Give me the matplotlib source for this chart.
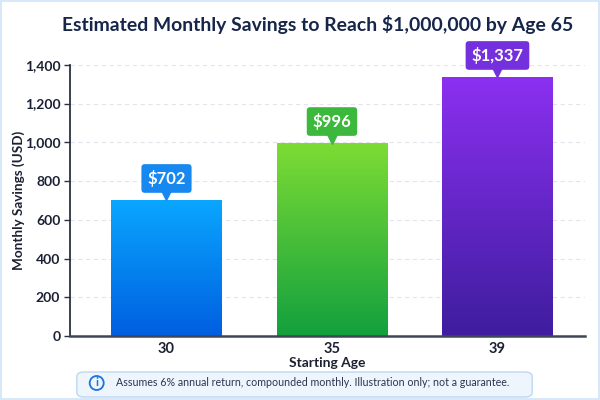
import numpy as np
import matplotlib
matplotlib.use("Agg")
import matplotlib.pyplot as plt
from matplotlib.patches import FancyBboxPatch, Rectangle, Circle
from matplotlib.colors import LinearSegmentedColormap
import matplotlib.transforms as mtrans
from matplotlib.ticker import FuncFormatter

ages = ["30", "35", "39"]
savings = [702, 996, 1337]
top_colors = ["#0aa6ff", "#7ddc34", "#8b30f0"]
bottom_colors = ["#005fe0", "#12a03e", "#3e1d9e"]
badge_colors = ["#1688f0", "#3cb83c", "#7430dc"]

plt.rcParams["font.family"] = ["Lato", "DejaVu Sans"]


def fit_length(txt, target_px, vertical=False):
    # shrink/grow a text so it spans about target_px pixels
    r = fig.canvas.get_renderer()
    bb = txt.get_window_extent(r)
    w = bb.height if vertical else bb.width
    txt.set_fontsize(txt.get_fontsize() * target_px / w)


fig = plt.figure(figsize=(6, 4), dpi=100)
fig.patch.set_facecolor("white")
fig.add_artist(Rectangle((0.002, 0.002), 0.996, 0.996, transform=fig.transFigure,
                         fill=False, edgecolor="#d8e8f8", linewidth=1.5))

ax = fig.add_axes([0.1167, 0.16, 0.8583, 0.678])
x = np.arange(len(ages))
width = 0.67

for i, v in enumerate(savings):
    cmap = LinearSegmentedColormap.from_list("g%d" % i, [bottom_colors[i], top_colors[i]])
    rect = Rectangle((x[i] - width / 2, 0), width, v, facecolor="none", edgecolor="none")
    ax.add_patch(rect)
    grad = np.linspace(0, 1, 256).reshape(-1, 1)
    im = ax.imshow(grad, cmap=cmap, origin="lower", aspect="auto",
                   extent=[x[i] - width / 2, x[i] + width / 2, 0, v], zorder=2)
    im.set_clip_path(rect)

    # value badge with pointer
    tip = mtrans.offset_copy(ax.transData, fig=fig, x=0, y=4, units="points")
    ax.plot(x[i], v, marker="v", markersize=8, color=badge_colors[i],
            transform=tip, clip_on=False, zorder=4)
    ax.annotate("$" + format(v, ","), (x[i], v), xytext=(0, 15.5), textcoords="offset points",
                ha="center", va="center", color="white", fontsize=12, fontweight="bold",
                annotation_clip=False, zorder=5,
                bbox=dict(boxstyle="round,pad=0.35,rounding_size=0.2",
                          facecolor=badge_colors[i], edgecolor="none"))

ax.set_xlim(-0.583, 2.529)
ax.set_ylim(0, 1400)
ax.set_yticks(range(0, 1401, 200))
ax.yaxis.set_major_formatter(FuncFormatter(lambda v, p: format(int(v), ",")))
ax.set_xticks(x)
ax.set_xticklabels(ages)
ax.grid(axis="y", linestyle=(0, (4, 3)), color="#e2e6ec", linewidth=0.8, zorder=0)
ax.set_axisbelow(True)

for s in ["top", "right"]:
    ax.spines[s].set_visible(False)
ax.spines["left"].set_color("#2a3142")
ax.spines["left"].set_linewidth(1.3)
ax.spines["bottom"].set_color("#3d4757")
ax.spines["bottom"].set_linewidth(1.8)
ax.tick_params(axis="y", length=4, width=1, color="#2a3142", labelsize=10,
               labelcolor="#1b2133", pad=3)
ax.tick_params(axis="x", length=0, labelsize=10.5, labelcolor="#1b2133", pad=4)
for lab in ax.get_xticklabels() + ax.get_yticklabels():
    lab.set_fontweight("bold")

ax.set_xlabel("Starting Age", fontsize=10, fontweight="bold", color="#1b2133", labelpad=1)
ylab = ax.set_ylabel("Monthly Savings (USD)", fontsize=10, fontweight="bold",
                     color="#1b2133", labelpad=0)

title = fig.text(0.529, 0.94, "Estimated Monthly Savings to Reach $1,000,000 by Age 65",
                 ha="center", va="center", fontsize=14.5, fontweight="bold", color="#16264a")

# footnote box
fig.add_artist(FancyBboxPatch((0.128, 0.0075), 0.759, 0.0625, transform=fig.transFigure,
                              boxstyle="round,pad=0,rounding_size=0.012",
                              facecolor="#eef5fd", edgecolor="#bcd8f4", linewidth=1))
fig.add_artist(Circle((0.967, 0.17), 0.07, transform=fig.dpi_scale_trans,
                      facecolor="none", edgecolor="#1a73e0", linewidth=1.3))
fig.text(0.161, 0.0425, "i", ha="center", va="center", fontsize=8.5, fontweight="bold",
         color="#1a73e0")
note = fig.text(0.194, 0.0425,
                "Assumes 6% annual return, compounded monthly. Illustration only; not a guarantee.",
                ha="left", va="center", fontsize=8.5, color="#2a3550")

fit_length(title, 509)
fit_length(note, 393)
fit_length(ylab, 139, vertical=True)

fig.savefig("out.png", dpi=100)
